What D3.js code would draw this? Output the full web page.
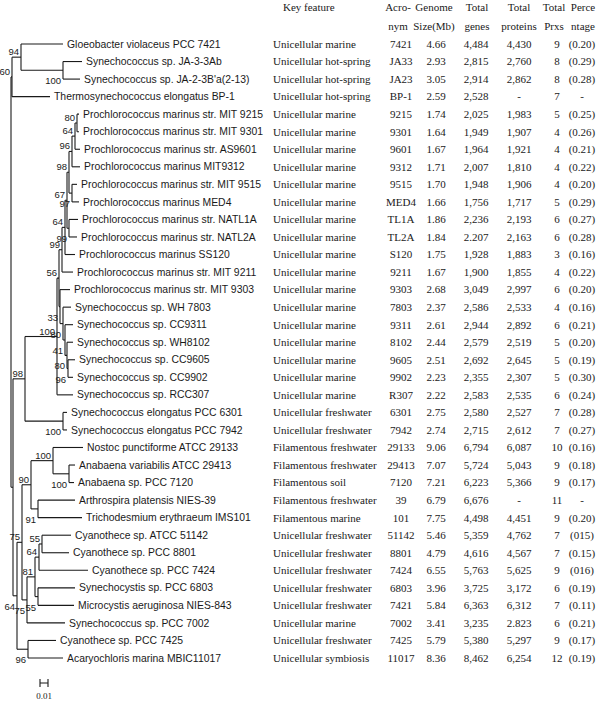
<!DOCTYPE html>
<html><head><meta charset="utf-8">
<script src="https://cdn.jsdelivr.net/npm/d3@7"></script>
<style>body{margin:0;background:#fff}</style>
</head><body>
<svg id="chart" width="600" height="702"></svg>
<script>
const taxa = [
 "Gloeobacter violaceus PCC 7421","Synechococcus sp. JA-3-3Ab","Synechococcus sp. JA-2-3B'a(2-13)",
 "Thermosynechococcus elongatus BP-1","Prochlorococcus marinus str. MIT 9215","Prochlorococcus marinus str. MIT 9301",
 "Prochlorococcus marinus str. AS9601","Prochlorococcus marinus MIT9312","Prochlorococcus marinus str. MIT 9515",
 "Prochlorococcus marinus MED4","Prochlorococcus marinus str. NATL1A","Prochlorococcus marinus str. NATL2A",
 "Prochlorococcus marinus SS120","Prochlorococcus marinus str. MIT 9211","Prochlorococcus marinus str. MIT 9303",
 "Synechococcus sp. WH 7803","Synechococcus sp. CC9311","Synechococcus sp. WH8102","Synechococcus sp. CC9605",
 "Synechococcus sp. CC9902","Synechococcus sp. RCC307","Synechococcus elongatus PCC 6301","Synechococcus elongatus PCC 7942",
 "Nostoc punctiforme ATCC 29133","Anabaena variabilis ATCC 29413","Anabaena sp. PCC 7120","Arthrospira platensis NIES-39",
 "Trichodesmium erythraeum IMS101","Cyanothece sp. ATCC 51142","Cyanothece sp. PCC 8801","Cyanothece sp. PCC 7424",
 "Synechocystis sp. PCC 6803","Microcystis aeruginosa NIES-843","Synechococcus sp. PCC 7002","Cyanothece sp. PCC 7425",
 "Acaryochloris marina MBIC11017"];
const keyFeature = ["Unicellular marine","Unicellular hot-spring","Unicellular hot-spring","Unicellular hot-spring",
 "Unicellular marine","Unicellular marine","Unicellular marine","Unicellular marine","Unicellular marine","Unicellular marine",
 "Unicellular marine","Unicellular marine","Unicellular marine","Unicellular marine","Unicellular marine","Unicellular marine",
 "Unicellular marine","Unicellular marine","Unicellular marine","Unicellular marine","Unicellular marine",
 "Unicellular freshwater","Unicellular freshwater","Filamentous freshwater","Filamentous freshwater","Filamentous soil",
 "Filamentous freshwater","Filamentous marine","Unicellular freshwater","Unicellular freshwater","Unicellular freshwater",
 "Unicellular freshwater","Unicellular freshwater","Unicellular marine","Unicellular freshwater","Unicellular symbiosis"];
const acronym = ["7421","JA33","JA23","BP-1","9215","9301","9601","9312","9515","MED4","TL1A","TL2A","S120","9211","9303",
 "7803","9311","8102","9605","9902","R307","6301","7942","29133","29413","7120","39","101","51142","8801","7424","6803",
 "7421","7002","7425","11017"];
const genomeSize = ["4.66","2.93","3.05","2.59","1.74","1.64","1.67","1.71","1.70","1.66","1.86","1.84","1.75","1.67","2.68",
 "2.37","2.61","2.44","2.51","2.23","2.22","2.75","2.74","9.06","7.07","7.21","6.79","7.75","5.46","4.79","6.55","3.96",
 "5.84","3.41","5.79","8.36"];
const totalGenes = ["4,484","2,815","2,914","2,528","2,025","1,949","1,964","2,007","1,948","1,756","2,236","2.207","1,928",
 "1,900","3,049","2,586","2,944","2,579","2,692","2,355","2,583","2,580","2,715","6,794","5,724","6,223","6,676","4,498",
 "5,359","4,616","5,763","3,725","6,363","3,235","5,380","8,462"];
const totalProteins = ["4,430","2,760","2,862","-","1,983","1,907","1,921","1,810","1,906","1,717","2,193","2,163","1,883",
 "1,855","2,997","2,533","2,892","2,519","2,645","2,307","2,535","2,527","2,612","6,087","5,043","5,366","-","4,451",
 "4,762","4,567","5,625","3,172","6,312","2.823","5,297","6,254"];
const totalPrxs = ["9","8","8","7","5","4","4","4","4","5","6","6","3","4","6","4","6","5","5","5","6","7","7","10","9","9",
 "11","9","7","7","9","6","7","6","9","12"];
const percentage = ["(0.20)","(0.29)","(0.28)","-","(0.25)","(0.26)","(0.21)","(0.22)","(0.20)","(0.29)","(0.27)","(0.28)",
 "(0.16)","(0.22)","(0.20)","(0.16)","(0.21)","(0.20)","(0.19)","(0.30)","(0.24)","(0.28)","(0.27)","(0.16)","(0.18)",
 "(0.17)","-","(0.20)","(015)","(0.15)","(016)","(0.19)","(0.11)","(0.21)","(0.17)","(0.19)"];
const headerLine1 = ["Acro-","Genome","Total","Total","Total","Perce"];
const headerLine2 = ["nym","Size(Mb)","genes","proteins","Prxs","ntage"];
const featureHeader = "Key feature";
const T = taxa;
// [node, parent, branch length (substitutions/site), bootstrap]
const treeEdges = [
 ["R",null,0,null],
 ["N60","R",0.00125,60],
 ["N94","N60",0.01125,94],
 [T[0],"N94",0.0525,null],
 ["NJA","N94",0.0525,100],
 [T[1],"NJA",0.02375,null],
 [T[2],"NJA",0.02125,null],
 [T[3],"N60",0.0475,null],
 ["N13","R",0.0025,null],
 ["N98","N13",0.015,98],
 ["N100","N98",0.04,100],
 ["NA","N100",0.0025,56],
 ["n99c","NA",0.00375,99],
 ["n64b","n99c",0.00375,64],
 ["n67","n64b",0.0025,67],
 ["n98","n67",0.0025,98],
 ["n96a","n98",0.00375,96],
 ["n64a","n96a",0.00375,64],
 ["n80","n64a",0.0025,80],
 [T[4],"n80",0.0025,null],
 [T[5],"n80",0.0025,null],
 [T[6],"n64a",0.00625,null],
 [T[7],"n96a",0.01,null],
 ["n97","n98",0.00375,97],
 [T[8],"n97",0.00625,null],
 [T[9],"n97",0.00875,null],
 ["nNATL","n67",0.0025,99],
 [T[10],"nNATL",0.01125,null],
 [T[11],"nNATL",0.01,null],
 [T[12],"n64b",0.0125,null],
 [T[13],"n99c",0.01375,null],
 ["Q","NA",0.00125,33],
 [T[14],"Q",0.0125,null],
 ["SynM","Q",0.00375,80],
 [T[15],"SynM",0.01,null],
 ["nC","SynM",0.0025,41],
 [T[16],"nC",0.01,null],
 ["nD","nC",0.0025,80],
 [T[17],"nD",0.0075,null],
 ["n96s","nD",0.00125,96],
 [T[18],"n96s",0.00875,null],
 [T[19],"n96s",0.00625,null],
 [T[20],"N100",0.02,null],
 ["NPCC","N98",0.0475,100],
 [T[21],"NPCC",0.005,null],
 [T[22],"NPCC",0.005,null],
 ["N17","N13",0.005,64],
 ["N22","N17",0.00625,75],
 ["NFil","N22",0.01125,90],
 ["NNos","NFil",0.0275,100],
 [T[23],"NNos",0.0375,null],
 ["NAna","NNos",0.02,100],
 [T[24],"NAna",0.0075,null],
 [T[25],"NAna",0.00625,null],
 ["NArth","NFil",0.00875,91],
 [T[26],"NArth",0.04625,null],
 [T[27],"NArth",0.055,null],
 ["NUni","N22",0.00625,75],
 ["N81","NUni",0.01,81],
 ["NCy3","N81",0.005,64],
 ["NCy2","NCy3",0.00375,55],
 [T[28],"NCy2",0.03625,null],
 [T[29],"NCy2",0.03375,null],
 [T[30],"NCy3",0.06125,null],
 ["NSM","N81",0.00375,55],
 [T[31],"NSM",0.04625,null],
 [T[32],"NSM",0.045,null],
 [T[33],"NUni",0.0475,null],
 ["N96","N17",0.01375,96],
 [T[34],"N96",0.035,null],
 [T[35],"N96",0.04375,null]
];
const scaleBarValue = 0.01;
const scaleBarLabel = "0.01";

const svg = d3.select("#chart");
const ink = "#1a1a1a";
const sans = "'Liberation Sans', Arial, sans-serif";
const serif = "'Liberation Serif', 'Times New Roman', serif";

const root = d3.stratify().id(d => d[0]).parentId(d => d[1])(treeEdges);
root.eachBefore(n => { n.len = n.parent ? n.parent.len + n.data[2] : 0; });
const y = d3.scalePoint().domain(taxa).range([44, 658]);
const x = d3.scaleLinear().domain([0, 0.01]).range([11, 19]);
root.eachAfter(n => {
  n.yy = n.children ? (n.children[0].yy + n.children[n.children.length - 1].yy) / 2 : y(n.id);
});

const gTree = svg.append("g");
gTree.selectAll("path.h").data(root.descendants().filter(n => n.parent)).join("path")
  .attr("d", n => `M${x(n.parent.len)},${n.yy}H${x(n.len)}`)
  .attr("stroke", ink).attr("stroke-width", 1.1).attr("fill", "none");
gTree.selectAll("path.v").data(root.descendants().filter(n => n.children)).join("path")
  .attr("d", n => `M${x(n.len)},${n.children[0].yy}V${n.children[n.children.length - 1].yy}`)
  .attr("stroke", ink).attr("stroke-width", 1.1).attr("fill", "none");
gTree.selectAll("text.tip").data(root.leaves()).join("text")
  .attr("x", n => x(n.len) + 4).attr("y", n => n.yy).attr("dy", "0.35em")
  .attr("font-family", sans).attr("font-size", 10.4).attr("fill", ink)
  .text(n => n.id);
gTree.selectAll("text.bs").data(root.descendants().filter(n => n.data[3] != null)).join("text")
  .attr("x", n => x(n.len) - 2)
  .attr("y", n => {
    const first = n.parent && n.parent.children[0] === n;
    return first ? n.yy - 2 : n.yy + 14;
  })
  .attr("text-anchor", "end")
  .attr("font-family", sans).attr("font-size", 9.5).attr("fill", ink)
  .text(n => n.data[3]);

const sb0 = 40, sbY = 683, sbLen = x(scaleBarValue) - x(0);
const gSb = svg.append("g");
gSb.append("path").attr("d", `M${sb0},${sbY}H${sb0 + sbLen}M${sb0},${sbY - 4}V${sbY + 4}M${sb0 + sbLen},${sbY - 4}V${sbY + 4}`)
  .attr("stroke", ink).attr("stroke-width", 1.1).attr("fill", "none");
gSb.append("text").attr("x", sb0 + sbLen / 2).attr("y", 699).attr("text-anchor", "middle")
  .attr("font-family", serif).attr("font-size", 9).attr("fill", ink).text(scaleBarLabel);

const gTab = svg.append("g").attr("font-family", serif).attr("font-size", 11).attr("fill", ink);
const colX = [398, 434, 477, 519, 554, 583];
const dataCols = [acronym, genomeSize, totalGenes, totalProteins, totalPrxs, percentage];
gTab.append("text").attr("x", 283).attr("y", 11).text(featureHeader);
headerLine1.forEach((h, i) => gTab.append("text").attr("x", colX[i]).attr("y", 11).attr("text-anchor", "middle").text(h));
headerLine2.forEach((h, i) => gTab.append("text").attr("x", colX[i]).attr("y", 30).attr("text-anchor", "middle").text(h));
gTab.selectAll("text.kf").data(keyFeature).join("text")
  .attr("x", 273).attr("y", (d, i) => y(taxa[i])).attr("dy", "0.35em").text(d => d);
const valCX = [401, 436, 476, 519, 557, 582];
dataCols.forEach((col, c) => {
  gTab.append("g").selectAll("text").data(col).join("text")
    .attr("x", valCX[c]).attr("y", (d, i) => y(taxa[i])).attr("dy", "0.35em")
    .attr("text-anchor", "middle").text(d => d);
});
</script>
</body></html>
